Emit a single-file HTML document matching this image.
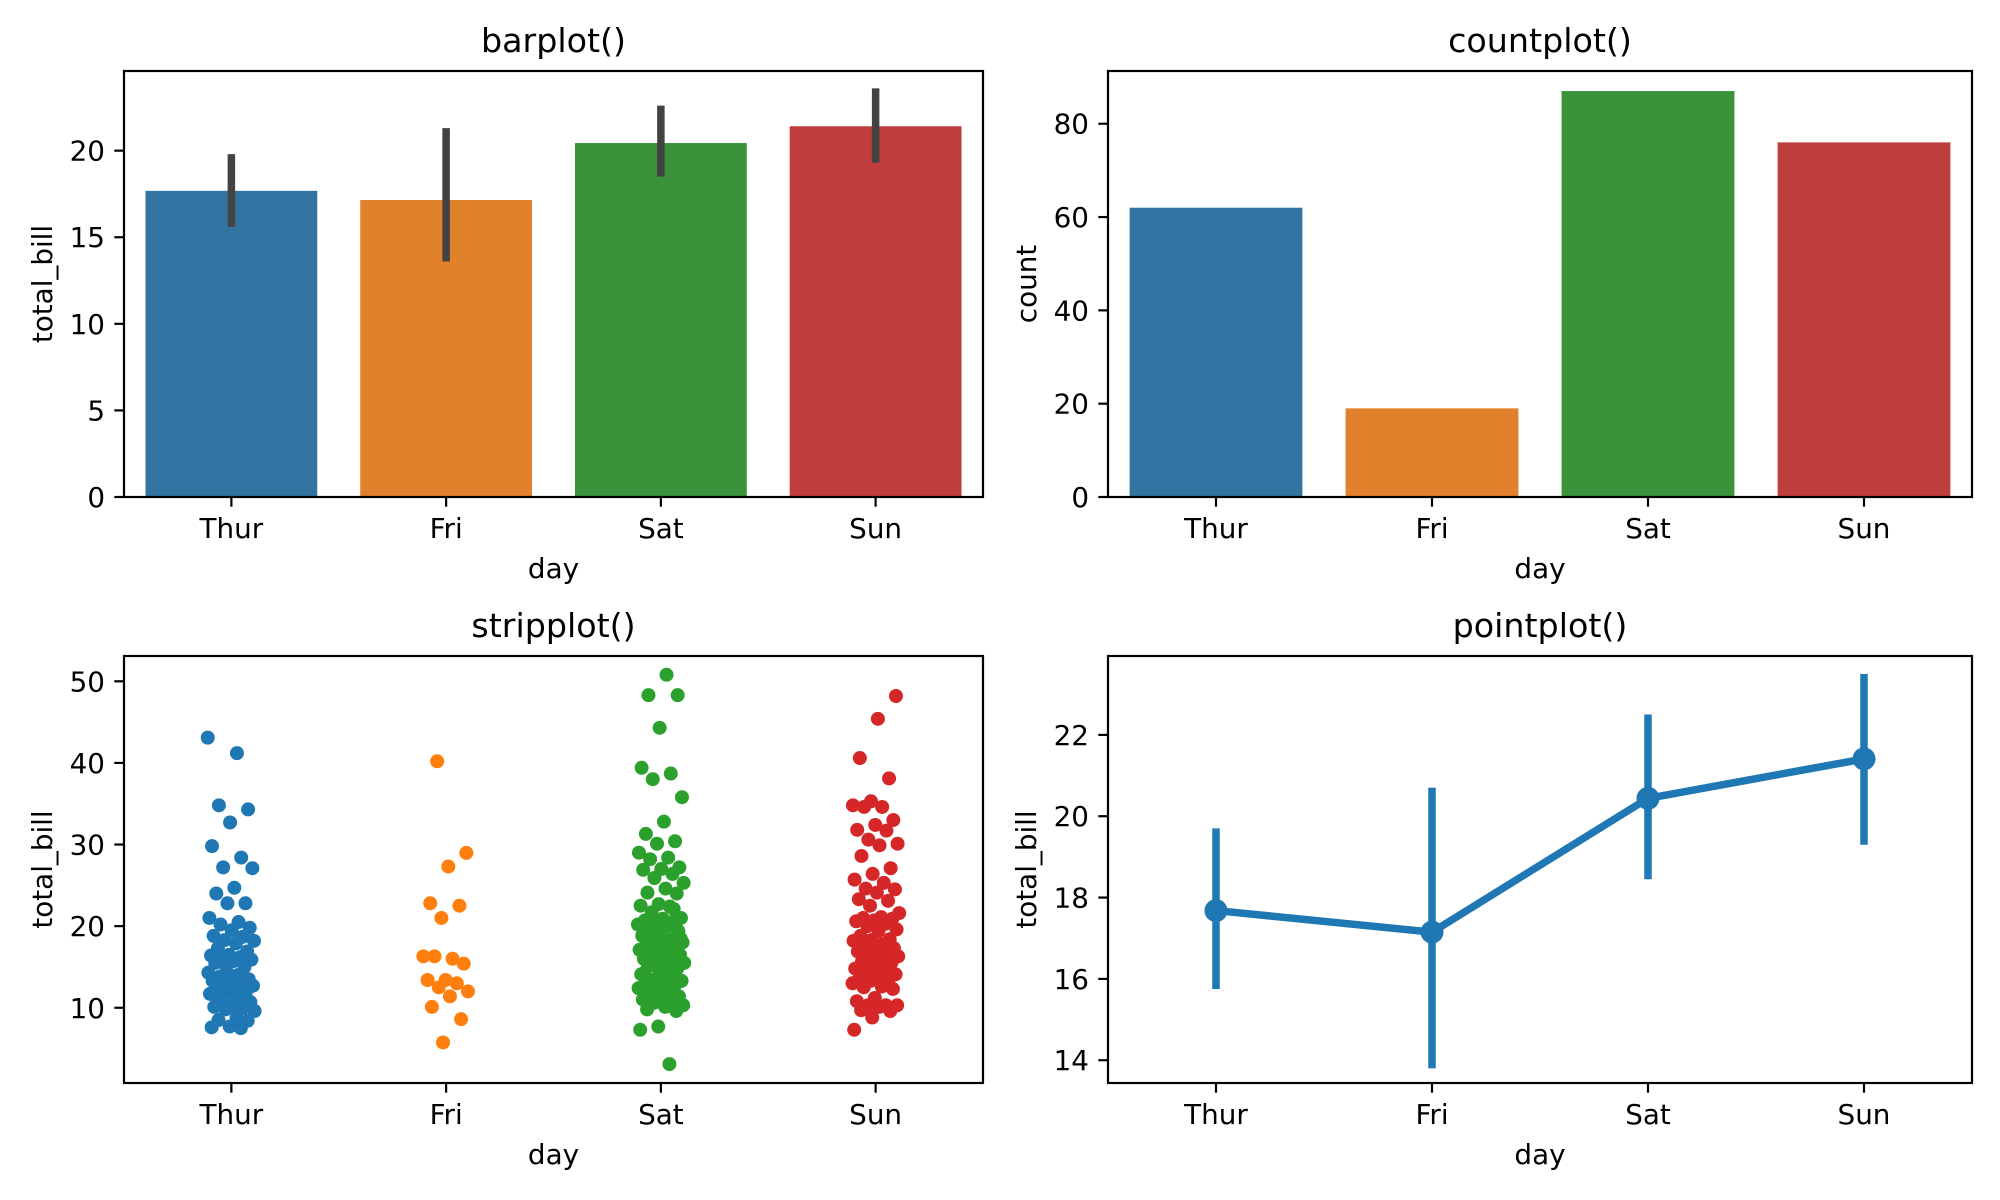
<!DOCTYPE html>
<html><head><meta charset="utf-8">
<style>
html,body{margin:0;padding:0;background:#fff;}
svg{display:block;font-family:"DejaVu Sans","Liberation Sans",sans-serif;}
</style></head>
<body>
<svg id="fig" width="2000" height="1200" viewBox="0 0 2000 1200" xmlns="http://www.w3.org/2000/svg"></svg>
<script>
// ---- data ----
const days = ["Thur", "Fri", "Sat", "Sun"];
const barMeans = [17.68, 17.15, 20.44, 21.41];
const barCiLow = [15.6, 13.6, 18.5, 19.3];
const barCiHigh = [19.8, 21.3, 22.6, 23.6];
const barTicks = [0, 5, 10, 15, 20];
const dayCounts = [62, 19, 87, 76];
const countTicks = [0, 20, 40, 60, 80];
const stripThur = [43.1,41.2,34.8,34.3,32.7,29.8,28.4,27.2,27.1,24.7,24.0,22.8,22.8,21.0,20.5,20.2,19.8,19.5,18.8,18.7,18.3,18.2,17.9,17.3,16.9,16.5,16.4,16.2,16.0,15.9,15.7,15.5,15.0,14.5,14.3,14.0,13.8,13.5,13.4,13.3,13.0,13.0,12.7,12.5,12.2,12.0,11.9,11.7,11.4,11.0,10.7,10.3,10.1,10.0,9.8,9.6,8.8,8.5,8.4,7.7,7.6,7.5];
const stripFri = [40.2,28.97,27.3,22.8,22.5,21.0,16.3,16.0,16.3,15.4,13.4,13.4,13.0,12.5,12.0,11.4,10.1,8.6,5.75];
const stripSat = [50.8,48.3,48.3,44.3,39.4,38.7,38.0,35.8,32.8,31.3,30.4,30.1,29.0,28.4,28.2,27.2,27.0,26.9,26.4,25.9,25.3,24.6,24.1,24.0,22.7,22.5,22.4,21.7,21.0,20.9,20.7,20.6,20.3,20.2,20.0,19.8,19.4,19.0,18.8,18.4,18.3,18.0,17.8,17.6,17.5,17.3,17.1,16.9,16.6,16.5,16.3,16.0,15.8,15.7,15.5,15.4,15.1,14.8,14.5,14.1,13.9,13.4,13.3,13.0,12.9,12.7,12.6,12.4,12.0,11.6,11.4,11.2,11.0,10.8,10.6,10.3,10.1,9.8,9.6,7.7,7.3,3.1,20.5,18.5,16.2,14.3,22.1];
const stripSun = [48.2,45.4,40.6,38.1,35.3,34.8,34.6,34.6,33.0,32.4,31.8,31.7,30.6,30.1,29.9,28.6,27.1,26.4,25.7,25.3,24.6,24.5,24.1,23.3,23.1,22.5,21.6,21.1,21.0,20.9,20.7,20.6,20.3,20.0,19.6,19.4,18.8,18.4,18.3,18.2,17.8,17.5,17.3,17.1,16.9,16.6,16.4,16.3,16.0,15.7,15.5,15.1,14.8,14.5,14.3,14.1,13.9,13.6,13.4,13.3,13.0,12.6,12.5,12.3,11.2,10.8,10.3,10.3,10.3,10.1,9.7,9.6,8.8,7.3,14.0,17.0];
const stripTicks = [10, 20, 30, 40, 50];
const pointMeans = [17.68, 17.15, 20.44, 21.41];
const pointCiLow = [15.75, 13.8, 18.45, 19.3];
const pointCiHigh = [19.7, 20.7, 22.5, 23.5];
const pointTicks = [14, 16, 18, 20, 22];

const NS = "http://www.w3.org/2000/svg";
const fig = document.getElementById("fig");
function mk(tag, attrs, parent) {
  const e = document.createElementNS(NS, tag);
  for (const k in attrs) e.setAttribute(k, attrs[k]);
  (parent || fig).appendChild(e);
  return e;
}
function txt(s, attrs, parent) { const t = mk("text", attrs, parent); t.textContent = s; return t; }

function makeAxes(name, x0, x1, y0, y1, ymin, ymax, ticks, title, ylabel) {
  const g = mk("g", {});
  
  
  const xs = i => x0 + (i + 0.5) / 4 * (x1 - x0);
  const ys = v => y1 - (v - ymin) / (ymax - ymin) * (y1 - y0);
  const plot = mk("g", {}, g);
  
  
  // ticks
  ticks.forEach(t => {
    const y = ys(t);
    mk("line", {x1: x0 - 9.7, x2: x0, y1: y, y2: y, stroke: "#000", "stroke-width": 2.2}, g);
    const l = txt(String(t), {x: x0 - 19, y: y + 10, "text-anchor": "end", "font-size": 27.8, fill: "#000"}, g);
    
    
  });
  days.forEach((d, i) => {
    const x = xs(i);
    mk("line", {x1: x, x2: x, y1: y1, y2: y1 + 9.7, stroke: "#000", "stroke-width": 2.2}, g);
    const l = txt(d, {x: x, y: y1 + 41, "text-anchor": "middle", "font-size": 27.8, fill: "#000"}, g);
    
    
  });
  const xl = txt("day", {x: (x0 + x1) / 2, y: y1 + 81, "text-anchor": "middle", "font-size": 27.8}, g);
  
  
  const yl = txt(ylabel, {x: 0, y: 0, "text-anchor": "middle", "font-size": 27.8, transform: "translate(" + (x0 - 72) + "," + ((y0 + y1) / 2) + ") rotate(-90)"}, g);
  
  
  const tt = txt(title, {x: (x0 + x1) / 2, y: y0 - 19, "text-anchor": "middle", "font-size": 33.3}, g);
  
  
  return {g, plot, xs, ys, frame: () => {
    const f = mk("rect", {x: x0, y: y0, width: x1 - x0, height: y1 - y0, fill: "none", stroke: "#000", "stroke-width": 2.2}, g);
    
    
  }};
}

const satCols = ["#3274a1", "#e1812c", "#3a923a", "#c03d3e"];
const cols = ["#1f77b4", "#ff7f0e", "#2ca02c", "#d62728"];
const L = [124, 983], R = [1108, 1972], T = [71, 497], B = [656, 1083];

// barplot
{
  const a = makeAxes("barplot-panel", L[0], L[1], T[0], T[1], 0, 24.6, barTicks, "barplot()", "total_bill");
  const bw = (L[1] - L[0]) / 4 * 0.8;
  barMeans.forEach((m, i) => {
    const r = mk("rect", {x: a.xs(i) - bw / 2, y: a.ys(m), width: bw, height: a.ys(0) - a.ys(m), fill: satCols[i]}, a.plot);
    
    
    const e = mk("line", {x1: a.xs(i), x2: a.xs(i), y1: a.ys(barCiLow[i]), y2: a.ys(barCiHigh[i]), stroke: "#424242", "stroke-width": 7.5}, a.plot);
    
    
  });
  a.frame();
}
// countplot
{
  const a = makeAxes("countplot-panel", R[0], R[1], T[0], T[1], 0, 91.3, countTicks, "countplot()", "count");
  const bw = (R[1] - R[0]) / 4 * 0.8;
  dayCounts.forEach((c, i) => {
    const r = mk("rect", {x: a.xs(i) - bw / 2, y: a.ys(c), width: bw, height: a.ys(0) - a.ys(c), fill: satCols[i]}, a.plot);
    
    
  });
  a.frame();
}
// stripplot
{
  const a = makeAxes("stripplot-panel", L[0], L[1], B[0], B[1], 0.78, 53.1, stripTicks, "stripplot()", "total_bill");
  const groups = [stripThur, stripFri, stripSat, stripSun];
  groups.forEach((arr, i) => {
    arr.forEach((v, j) => {
      const jit = (((j * 0.6180339 + i * 0.31) % 1) - 0.5) * 0.22;
      const c = mk("circle", {cx: a.xs(i + jit), cy: a.ys(v), r: 7, fill: cols[i]}, a.plot);
      
      
    });
  });
  a.frame();
}
// pointplot
{
  const a = makeAxes("pointplot-panel", R[0], R[1], B[0], B[1], 13.44, 23.94, pointTicks, "pointplot()", "total_bill");
  pointMeans.forEach((m, i) => {
    const e = mk("line", {x1: a.xs(i), x2: a.xs(i), y1: a.ys(pointCiLow[i]), y2: a.ys(pointCiHigh[i]), stroke: "#1f77b4", "stroke-width": 7.5}, a.plot);
    
    
  });
  const pts = pointMeans.map((m, i) => a.xs(i) + "," + a.ys(m)).join(" ");
  const pl = mk("polyline", {points: pts, fill: "none", stroke: "#1f77b4", "stroke-width": 7.5, "stroke-linejoin": "round"}, a.plot);
  
  
  pointMeans.forEach((m, i) => {
    const c = mk("circle", {cx: a.xs(i), cy: a.ys(m), r: 11.5, fill: "#1f77b4"}, a.plot);
    
    
  });
  a.frame();
}
</script>
</body></html>
